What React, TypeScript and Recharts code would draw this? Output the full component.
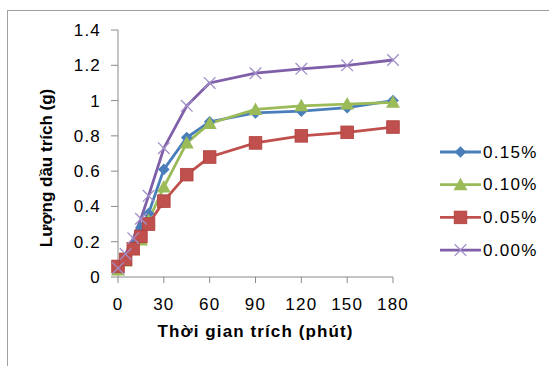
import React from 'react';
import { LineChart, Line, XAxis, YAxis, Legend } from 'recharts';

// Extraction time in minutes
const times = [0, 5, 10, 15, 20, 30, 45, 60, 90, 120, 150, 180];

// Extracted oil (g) for each concentration
const conc015 = [0.05, 0.1, 0.18, 0.28, 0.36, 0.61, 0.79, 0.88, 0.93, 0.94, 0.96, 1.0];
const conc010 = [0.04, 0.09, 0.16, 0.21, 0.32, 0.51, 0.76, 0.87, 0.95, 0.97, 0.98, 0.99];
const conc005 = [0.06, 0.1, 0.16, 0.23, 0.3, 0.43, 0.58, 0.68, 0.76, 0.8, 0.82, 0.85];
const conc000 = [0.05, 0.13, 0.22, 0.33, 0.46, 0.73, 0.97, 1.1, 1.155, 1.18, 1.2, 1.23];

const seriesNames = ['0.15%', '0.10%', '0.05%', '0.00%'];
const xTicks = [0, 30, 60, 90, 120, 150, 180];
const yTicks = [0, 0.2, 0.4, 0.6, 0.8, 1, 1.2, 1.4];

const FONT = '"Liberation Sans", Arial, sans-serif';

type Shape = 'diamond' | 'triangle' | 'square' | 'cross';

const series: { key: string; name: string; color: string; shape: Shape; values: number[] }[] = [
  { key: 's015', name: seriesNames[0], color: '#4a7ebb', shape: 'diamond', values: conc015 },
  { key: 's010', name: seriesNames[1], color: '#9bbb59', shape: 'triangle', values: conc010 },
  { key: 's005', name: seriesNames[2], color: '#c0504d', shape: 'square', values: conc005 },
  { key: 's000', name: seriesNames[3], color: '#7f5fa8', shape: 'cross', values: conc000 },
];

const rows = times.map((t, i) => {
  const row: Record<string, number> = { t };
  series.forEach((s) => {
    row[s.key] = s.values[i];
  });
  return row;
});

function Marker({ shape, cx, cy, color }: { shape: Shape; cx: number; cy: number; color: string }) {
  if (shape === 'diamond') {
    const r = 5.8;
    return <polygon points={`${cx},${cy - r} ${cx + r},${cy} ${cx},${cy + r} ${cx - r},${cy}`} fill={color} />;
  }
  if (shape === 'triangle') {
    return <polygon points={`${cx},${cy - 7} ${cx + 7},${cy + 5.5} ${cx - 7},${cy + 5.5}`} fill={color} />;
  }
  if (shape === 'square') {
    const h = 6.3;
    return <rect x={cx - h} y={cy - h} width={h * 2} height={h * 2} fill={color} stroke="#b0403d" strokeWidth={0.8} />;
  }
  const r = 5.8;
  return (
    <g stroke="#a28fc9" strokeWidth={1.3}>
      <line x1={cx - r} y1={cy - r} x2={cx + r} y2={cy + r} />
      <line x1={cx - r} y1={cy + r} x2={cx + r} y2={cy - r} />
    </g>
  );
}

function LegendBox() {
  return (
    <svg width={111} height={140}>
      {series.map((s, i) => {
        const y = 12 + i * 32.7;
        return (
          <g key={s.key}>
            <line x1={2} y1={y} x2={43} y2={y} stroke={s.color} strokeWidth={2.8} />
            <Marker shape={s.shape} cx={22.5} cy={y} color={s.color} />
            <text x={45} y={y} dominantBaseline="central" fontFamily={FONT} fontSize={17} letterSpacing={1.3} fill="#000">
              {s.name}
            </text>
          </g>
        );
      })}
    </svg>
  );
}

export default function App() {
  return (
    <div style={{ position: 'fixed', left: 0, top: 0, width: 549, height: 366, overflow: 'hidden', background: '#fff' }}>
      <div
        style={{
          position: 'absolute',
          left: 7,
          top: 10,
          width: 620,
          height: 420,
          border: '1px solid #a0a0a0',
          boxShadow: '1px 1px 1px #d8d8d8',
        }}
      />
      <LineChart width={549} height={366} data={rows} margin={{ top: 30, right: 156, bottom: 59, left: 0 }}>
        <XAxis
          dataKey="t"
          type="number"
          domain={[0, 180]}
          ticks={xTicks}
          interval={0}
          height={30}
          axisLine={{ stroke: '#8a8a8a' }}
          tickLine={{ stroke: '#8a8a8a' }}
          tickSize={6}
          tickMargin={15}
          tick={{ fill: '#000', fontSize: 17, fontFamily: FONT, letterSpacing: 1.2 }}
          label={{
            value: 'Thời gian trích (phút)',
            position: 'bottom',
            offset: 18,
            fill: '#000',
            fontSize: 17,
            fontWeight: 'bold',
            fontFamily: FONT,
            letterSpacing: 1.1,
          }}
        />
        <YAxis
          type="number"
          domain={[0, 1.4]}
          ticks={yTicks}
          interval={0}
          width={118}
          axisLine={{ stroke: '#8a8a8a' }}
          tickLine={{ stroke: '#8a8a8a' }}
          tickSize={7}
          tickMargin={10}
          tick={{ fill: '#000', fontSize: 17, fontFamily: FONT, letterSpacing: 1.2 }}
          label={{
            content: () => (
              <text
                transform="translate(46,168) rotate(-90)"
                textAnchor="middle"
                dominantBaseline="central"
                fontFamily={FONT}
                fontSize={17}
                fontWeight="bold"
                fill="#000"
              >
                Lượng dầu trích (g)
              </text>
            ),
          }}
        />
        {series.map((s) => (
          <Line
            key={s.key}
            dataKey={s.key}
            name={s.name}
            stroke={s.color}
            strokeWidth={2.8}
            isAnimationActive={false}
            dot={(p: any) => <Marker key={`${s.key}-${p.index}`} shape={s.shape} cx={p.cx} cy={p.cy} color={s.color} />}
            activeDot={false}
          />
        ))}
        <Legend
          layout="horizontal"
          verticalAlign="middle"
          align="center"
          content={() => <LegendBox />}
          wrapperStyle={{ left: 438, top: 140, width: 111, height: 140 }}
        />
      </LineChart>
    </div>
  );
}
